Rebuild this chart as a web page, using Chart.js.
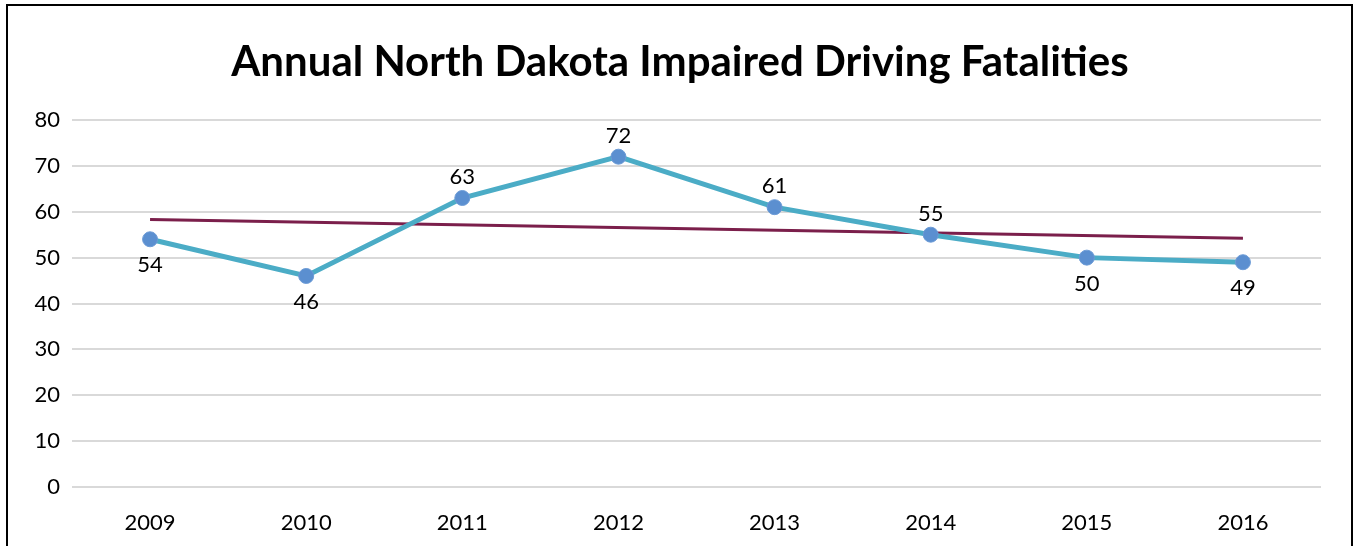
<!DOCTYPE html>
<html lang="en">
<head>
    <meta charset="UTF-8">
    <title>Annual North Dakota Impaired Driving Fatalities</title>
    <script src="https://cdn.jsdelivr.net/npm/chart.js"></script>
    <style>
        body {
            margin: 0;
            padding: 0;
            background-color: #fff;
        }
        #wrap {
            width: 1354px;
            height: 546px;
            position: relative;
        }
    </style>
</head>
<body>
    <div id="wrap">
        <canvas id="fatalChart"></canvas>
    </div>

    <script>
        const chartTitle = 'Annual North Dakota Impaired Driving Fatalities';
        const years = ['2009', '2010', '2011', '2012', '2013', '2014', '2015', '2016'];
        const fatalities = [54, 46, 63, 72, 61, 55, 50, 49];
        // linear trend, end points
        const trend = [58.3, null, null, null, null, null, null, 54.2];
        // where each value label sits: 'up' above the point, 'down' below it
        const labelSide = ['down', 'down', 'up', 'up', 'up', 'up', 'down', 'down'];

        const FONT = 'Lato, "Open Sans", sans-serif';

        // draws the value labels next to each point
        const valueLabels = {
            id: 'valueLabels',
            afterDatasetsDraw(chart) {
                const ctx = chart.ctx;
                const meta = chart.getDatasetMeta(0);
                ctx.save();
                ctx.font = '22px ' + FONT;
                ctx.fillStyle = '#000';
                ctx.textAlign = 'center';
                ctx.textBaseline = 'middle';
                meta.data.forEach((pt, i) => {
                    const dy = labelSide[i] === 'up' ? -21 : 26;
                    ctx.fillText(String(fatalities[i]), pt.x, pt.y + dy);
                });
                ctx.restore();
            }
        };

        // black frame round the chart and the title, centred on the frame
        const frame = {
            id: 'frame',
            beforeDraw(chart) {
                const ctx = chart.ctx;
                ctx.save();
                ctx.strokeStyle = '#000';
                ctx.lineWidth = 2;
                ctx.strokeRect(7, 5, 1345, 560);
                ctx.font = 'bold 42px ' + FONT;
                ctx.fillStyle = '#000';
                ctx.textAlign = 'center';
                ctx.textBaseline = 'middle';
                ctx.fillText(chartTitle, 680, 62);
                ctx.restore();
            }
        };

        const ctx = document.getElementById('fatalChart').getContext('2d');
        new Chart(ctx, {
            type: 'line',
            data: {
                labels: years,
                datasets: [{
                    label: 'Fatalities',
                    data: fatalities,
                    borderColor: '#4BACC6',
                    borderWidth: 5,
                    pointRadius: 7.5,
                    pointBackgroundColor: '#5B8FD0',
                    pointBorderColor: '#6C9BD6',
                    pointBorderWidth: 1,
                    tension: 0,
                    order: 1
                }, {
                    label: 'Trend',
                    data: trend,
                    spanGaps: true,
                    borderColor: '#7B1F4B',
                    borderWidth: 3,
                    pointRadius: 0,
                    order: 2
                }]
            },
            options: {
                responsive: true,
                maintainAspectRatio: false,
                animation: false,
                layout: {
                    padding: { left: 0, right: 33, top: 120, bottom: 0 }
                },
                plugins: {
                    legend: { display: false },
                    tooltip: { enabled: false },
                    title: { display: false }
                },
                scales: {
                    x: {
                        offset: true,
                        grid: { display: false },
                        border: { display: false },
                        ticks: {
                            color: '#000',
                            font: { family: FONT, size: 22 },
                            padding: 15
                        },
                        afterFit(scale) { scale.height = 59; }
                    },
                    y: {
                        min: 0,
                        max: 80,
                        ticks: {
                            stepSize: 10,
                            color: '#000',
                            font: { family: FONT, size: 22 },
                            padding: 12
                        },
                        grid: {
                            color: '#d9d9d9',
                            lineWidth: 2,
                            drawTicks: false
                        },
                        border: { display: false },
                        afterFit(scale) { scale.width = 72; }
                    }
                }
            },
            plugins: [frame, valueLabels]
        });
    </script>
</body>
</html>
